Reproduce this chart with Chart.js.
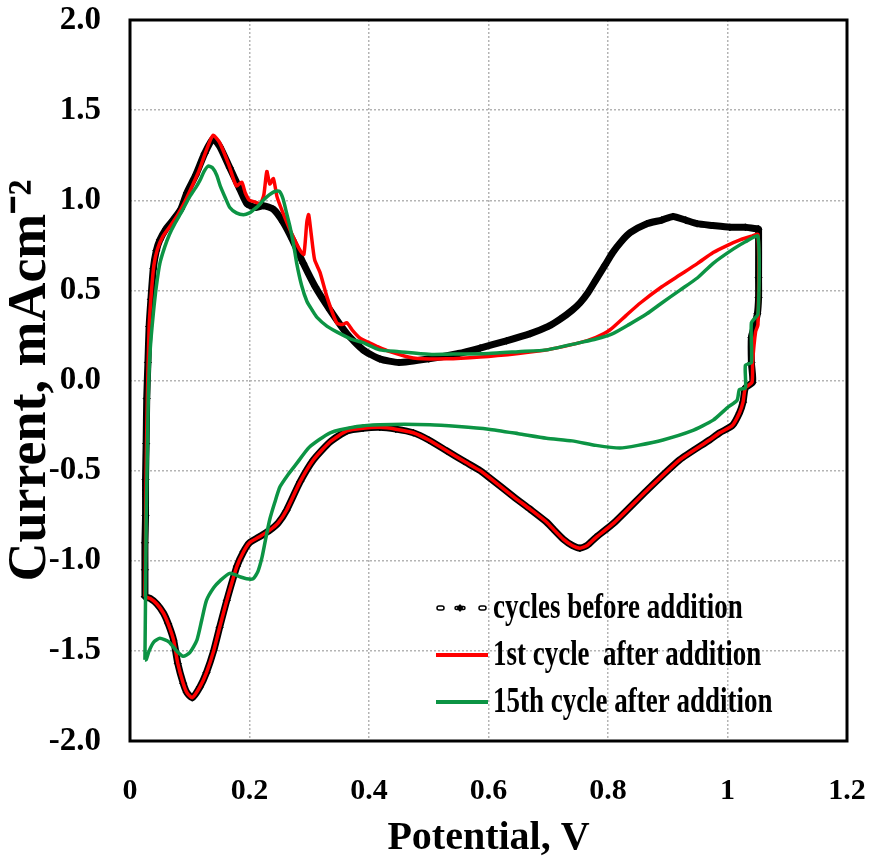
<!DOCTYPE html>
<html>
<head>
<meta charset="utf-8">
<script src="https://cdn.jsdelivr.net/npm/chart.js@4/dist/chart.umd.min.js"></script>
<style>
  html, body { margin: 0; padding: 0; background: #fff; }
  #wrap { width: 871px; height: 863px; }
</style>
</head>
<body>
<div id="wrap"><canvas id="cv" width="871" height="863"></canvas></div>
<script>
// Cyclic voltammograms: potential (V) and current density (mA cm^-2), traced as closed loops
const seriesLabels = ['cycles before addition', '1st cycle  after addition', '15th cycle after addition'];

const beforeV = [
  0.025, 0.025, 0.025, 0.026, 0.026, 0.027, 0.028, 0.030, 0.032, 0.035, 0.039, 0.044, 0.050, 0.060, 0.072, 0.085,
  0.095, 0.110, 0.125, 0.139, 0.150, 0.167, 0.184, 0.196, 0.210, 0.223, 0.240, 0.256, 0.272, 0.290, 0.310, 0.335,
  0.363, 0.390, 0.418, 0.450, 0.500, 0.550, 0.586, 0.630, 0.670, 0.700, 0.720, 0.740, 0.753, 0.767, 0.780, 0.795,
  0.808, 0.822, 0.837, 0.865, 0.890, 0.909, 0.930, 0.949, 0.975, 1.004, 1.030, 1.051,
  1.052, 1.052, 1.052, 1.050, 1.045, 1.040, 1.040, 1.042, 1.030, 1.026, 1.020, 1.008, 0.987, 0.970, 0.920, 0.865,
  0.810, 0.780, 0.765, 0.753, 0.740, 0.725, 0.710, 0.697, 0.670, 0.642, 0.600, 0.586, 0.560, 0.530, 0.500, 0.474,
  0.445, 0.418, 0.390, 0.363, 0.335, 0.307, 0.285, 0.262, 0.248, 0.234, 0.215, 0.200, 0.190, 0.179, 0.162, 0.150,
  0.140, 0.128, 0.117, 0.104, 0.095, 0.089, 0.080, 0.073, 0.064, 0.056, 0.045, 0.034, 0.025
];
const beforeI = [
  -1.20, -1.05, -0.90, -0.75, -0.55, -0.35, -0.10, 0.10, 0.30, 0.45, 0.62, 0.72, 0.78, 0.84, 0.89, 0.95,
  1.04, 1.14, 1.26, 1.34, 1.30, 1.18, 1.06, 0.98, 0.96, 0.97, 0.95, 0.88, 0.78, 0.65, 0.52, 0.39,
  0.26, 0.17, 0.12, 0.10, 0.12, 0.15, 0.18, 0.22, 0.26, 0.30, 0.34, 0.39, 0.43, 0.49, 0.56, 0.64,
  0.71, 0.77, 0.82, 0.87, 0.89, 0.91, 0.89, 0.87, 0.86, 0.85, 0.85, 0.84,
  0.84, 0.57, 0.46, 0.37, 0.30, 0.24, 0.10, -0.01, -0.04, -0.12, -0.18, -0.25, -0.29, -0.33, -0.44, -0.61,
  -0.79, -0.87, -0.915, -0.93, -0.915, -0.88, -0.83, -0.785, -0.715, -0.645, -0.535, -0.50, -0.45, -0.39, -0.33, -0.29,
  -0.27, -0.26, -0.265, -0.28, -0.34, -0.44, -0.56, -0.72, -0.79, -0.83, -0.87, -0.90, -0.95, -1.03, -1.22, -1.37,
  -1.50, -1.62, -1.70, -1.76, -1.73, -1.68, -1.57, -1.44, -1.35, -1.29, -1.24, -1.21, -1.20
];

const firstV = [
  0.025, 0.026, 0.027, 0.029, 0.032, 0.036, 0.040, 0.046, 0.055, 0.068, 0.080, 0.090, 0.100, 0.115, 0.128, 0.139,
  0.150, 0.165, 0.178, 0.187, 0.193, 0.200, 0.210, 0.218, 0.224, 0.229, 0.234, 0.240, 0.246, 0.256, 0.270, 0.285,
  0.291, 0.296, 0.299, 0.303, 0.309, 0.318, 0.330, 0.346, 0.355, 0.363, 0.372, 0.385, 0.400, 0.413, 0.435, 0.474,
  0.530, 0.586, 0.650, 0.698, 0.753, 0.780, 0.803, 0.830, 0.854, 0.890, 0.920, 0.950, 0.976, 1.000, 1.021, 1.040,
  1.051,
  1.051, 1.047, 1.042, 1.041, 1.030, 1.026, 1.020, 1.008, 0.987, 0.970, 0.920, 0.865, 0.810, 0.780, 0.765, 0.753,
  0.740, 0.725, 0.710, 0.697, 0.670, 0.642, 0.600, 0.586, 0.560, 0.530, 0.500, 0.474, 0.445, 0.418, 0.390, 0.363,
  0.335, 0.307, 0.285, 0.262, 0.248, 0.234, 0.215, 0.200, 0.190, 0.179, 0.162, 0.150, 0.140, 0.128, 0.117, 0.104,
  0.095, 0.089, 0.080, 0.073, 0.064, 0.056, 0.045, 0.034, 0.025
];
const firstI = [
  -1.20, -0.90, -0.50, -0.10, 0.30, 0.50, 0.64, 0.73, 0.80, 0.86, 0.92, 0.98, 1.05, 1.16, 1.28, 1.36,
  1.32, 1.20, 1.08, 1.10, 1.04, 1.00, 0.99, 0.98, 1.03, 1.16, 1.09, 1.12, 1.02, 0.93, 0.82, 0.72,
  0.70, 0.88, 0.92, 0.82, 0.67, 0.60, 0.46, 0.32, 0.31, 0.32, 0.28, 0.235, 0.21, 0.19, 0.16, 0.125,
  0.12, 0.13, 0.15, 0.17, 0.21, 0.24, 0.28, 0.36, 0.43, 0.52, 0.585, 0.65, 0.71, 0.75, 0.78, 0.80,
  0.81,
  0.31, 0.27, 0.10, -0.01, -0.04, -0.12, -0.18, -0.25, -0.29, -0.33, -0.44, -0.61, -0.79, -0.87, -0.915, -0.93,
  -0.915, -0.88, -0.83, -0.785, -0.715, -0.645, -0.535, -0.50, -0.45, -0.39, -0.33, -0.29, -0.27, -0.26, -0.265, -0.28,
  -0.34, -0.44, -0.56, -0.72, -0.79, -0.83, -0.87, -0.90, -0.95, -1.03, -1.22, -1.37, -1.50, -1.62, -1.70, -1.76,
  -1.73, -1.68, -1.57, -1.44, -1.35, -1.29, -1.24, -1.21, -1.20
];

const fifteenthV = [
  0.025, 0.026, 0.027, 0.029, 0.031, 0.034, 0.039, 0.044, 0.050, 0.058, 0.066, 0.075, 0.087, 0.100, 0.110, 0.117,
  0.124, 0.131, 0.138, 0.145, 0.151, 0.160, 0.167, 0.178, 0.190, 0.200, 0.206, 0.215, 0.223, 0.233, 0.243, 0.250,
  0.256, 0.262, 0.268, 0.274, 0.279, 0.287, 0.296, 0.305, 0.313, 0.330, 0.346, 0.370, 0.390, 0.418, 0.450, 0.500,
  0.530, 0.600, 0.650, 0.698, 0.753, 0.780, 0.808, 0.835, 0.865, 0.890, 0.920, 0.950, 0.976, 1.010, 1.030, 1.051,
  1.051, 1.040, 1.040, 1.030, 1.030, 1.020, 1.016, 1.000, 0.976, 0.940, 0.892, 0.850, 0.820, 0.780, 0.740, 0.697,
  0.650, 0.600, 0.550, 0.502, 0.418, 0.380, 0.335, 0.300, 0.279, 0.265, 0.251, 0.242, 0.234, 0.227, 0.221, 0.214,
  0.206, 0.195, 0.185, 0.167, 0.151, 0.140, 0.128, 0.120, 0.112, 0.100, 0.089, 0.078, 0.065, 0.050, 0.040, 0.032,
  0.027, 0.025
];
const fifteenthI = [
  -1.55, -1.20, -0.80, -0.40, -0.05, 0.18, 0.37, 0.52, 0.65, 0.74, 0.81, 0.87, 0.94, 1.02, 1.07, 1.11,
  1.16, 1.19, 1.18, 1.14, 1.08, 1.01, 0.96, 0.93, 0.92, 0.93, 0.945, 0.97, 1.00, 1.03, 1.05, 1.05,
  1.01, 0.93, 0.85, 0.75, 0.65, 0.53, 0.44, 0.39, 0.35, 0.30, 0.27, 0.23, 0.21, 0.17, 0.16, 0.145,
  0.146, 0.15, 0.16, 0.17, 0.21, 0.23, 0.26, 0.31, 0.37, 0.43, 0.50, 0.57, 0.65, 0.73, 0.77, 0.80,
  0.37, 0.32, 0.10, 0.085, -0.04, -0.05, -0.11, -0.15, -0.22, -0.28, -0.33, -0.36, -0.375, -0.36, -0.335, -0.32,
  -0.295, -0.27, -0.255, -0.245, -0.245, -0.255, -0.29, -0.37, -0.46, -0.52, -0.59, -0.68, -0.77, -0.88, -0.98, -1.06,
  -1.10, -1.10, -1.09, -1.07, -1.11, -1.15, -1.22, -1.33, -1.44, -1.51, -1.53, -1.50, -1.45, -1.43, -1.45, -1.50,
  -1.55, -1.55
];

const xTickLabels = ['0', '0.2', '0.4', '0.6', '0.8', '1', '1.2'];
const yTickLabels = ['-2.0', '-1.5', '-1.0', '-0.5', '0.0', '0.5', '1.0', '1.5', '2.0'];

const toPoints = (vs, is) => vs.map((v, k) => ({ x: v, y: is[k] }));
const FONT = "'Liberation Serif', 'Times New Roman', serif";

// Black frame around the plotting area
const framePlugin = {
  id: 'frame',
  afterDraw(chart) {
    const { ctx, chartArea: a } = chart;
    ctx.save();
    ctx.strokeStyle = '#000';
    ctx.lineWidth = 3;
    ctx.strokeRect(a.left, a.top, a.right - a.left, a.bottom - a.top);
    ctx.restore();
  }
};

// Legend drawn inside the plot, lower right; the serif text is set tall and narrow
const insideLegend = {
  id: 'insideLegend',
  afterDraw(chart) {
    const { ctx } = chart;
    const x0 = 436, x1 = 488, tx = 493;
    const rows = [608, 655, 702];
    ctx.save();
    chart.data.datasets.forEach((ds, k) => {
      const y = rows[k];
      if (k === 0) {
        ctx.lineWidth = 1.5;
        ctx.strokeStyle = '#000';
        ctx.fillStyle = '#fff';
        ctx.beginPath(); ctx.roundRect(437, y - 2, 7, 4, 2); ctx.fill(); ctx.stroke();
        ctx.beginPath(); ctx.roundRect(479, y - 2, 7, 4, 2); ctx.fill(); ctx.stroke();
        ctx.beginPath(); ctx.roundRect(455, y - 1.5, 10, 3, 1.5); ctx.fill(); ctx.stroke();
        ctx.fillStyle = '#000';
        ctx.beginPath();
        ctx.moveTo(460, y - 4); ctx.lineTo(463.5, y); ctx.lineTo(460, y + 4); ctx.lineTo(456.5, y);
        ctx.closePath(); ctx.fill();
      } else {
        ctx.strokeStyle = ds.borderColor;
        ctx.lineWidth = 4;
        ctx.beginPath(); ctx.moveTo(x0, y); ctx.lineTo(x1, y); ctx.stroke();
      }
      ctx.save();
      ctx.translate(tx, y + 1);
      ctx.scale(0.87, 1.18);
      ctx.fillStyle = '#000';
      ctx.font = 'bold 31px ' + FONT;
      ctx.textBaseline = 'middle';
      ctx.textAlign = 'left';
      ctx.fillText(ds.label, 0, 0);
      ctx.restore();
    });
    ctx.restore();
  }
};

new Chart(document.getElementById('cv'), {
  type: 'scatter',
  data: {
    datasets: [
      {
        label: seriesLabels[0],
        data: toPoints(beforeV, beforeI),
        showLine: true,
        borderColor: '#000',
        borderWidth: 7,
        pointStyle: 'rectRot',
        pointRadius: 3.5,
        pointBackgroundColor: '#000',
        pointBorderColor: '#000',
        pointBorderWidth: 1,
        tension: 0.2,
        order: 2
      },
      {
        label: seriesLabels[1],
        data: toPoints(firstV, firstI),
        showLine: true,
        borderColor: '#ff0000',
        borderWidth: 3.5,
        pointRadius: 0,
        tension: 0.2,
        order: 1
      },
      {
        label: seriesLabels[2],
        data: toPoints(fifteenthV, fifteenthI),
        showLine: true,
        borderColor: '#0c9444',
        borderWidth: 3.5,
        pointRadius: 0,
        tension: 0.2,
        order: 0
      }
    ]
  },
  options: {
    responsive: false,
    devicePixelRatio: 1,
    animation: false,
    layout: { padding: 0 },
    plugins: {
      legend: { display: false },
      tooltip: { enabled: false }
    },
    scales: {
      x: {
        type: 'linear',
        min: 0, max: 1.2,
        afterFit(s) { s.height = 122; s.paddingLeft = 0; s.paddingRight = 24; },
        afterBuildTicks(s) { s.ticks = xTickLabels.map(t => ({ value: parseFloat(t) })); },
        ticks: {
          callback: (v, i) => xTickLabels[i],
          color: '#000',
          padding: 32,
          maxRotation: 0,
          font: { family: FONT, size: 30, weight: 'bold' }
        },
        grid: { color: '#b4b4b4', lineWidth: 1.5, drawTicks: false },
        border: { display: false, dash: [2, 2] },
        title: {
          display: true,
          text: 'Potential, V',
          color: '#000',
          padding: { top: 0, bottom: 0 },
          font: { family: FONT, size: 40, weight: 'bold', lineHeight: 1.2 }
        }
      },
      y: {
        type: 'linear',
        min: -2, max: 2,
        afterFit(s) { s.width = 130; s.paddingTop = 20; s.paddingBottom = 0; },
        afterBuildTicks(s) { s.ticks = yTickLabels.map(t => ({ value: parseFloat(t) })); },
        ticks: {
          callback: (v, i) => yTickLabels[i],
          color: '#000',
          padding: 29,
          font: { family: FONT, size: 33, weight: 'bold' }
        },
        grid: { color: '#b4b4b4', lineWidth: 1.5, drawTicks: false },
        border: { display: false, dash: [2, 2] },
        title: {
          display: true,
          text: 'Current, mAcm\u207B\u00B2',
          color: '#000',
          padding: { top: 1, bottom: 0 },
          font: { family: FONT, size: 54, weight: 'bold', lineHeight: 1.1 }
        }
      }
    }
  },
  plugins: [framePlugin, insideLegend]
});
</script>
</body>
</html>
